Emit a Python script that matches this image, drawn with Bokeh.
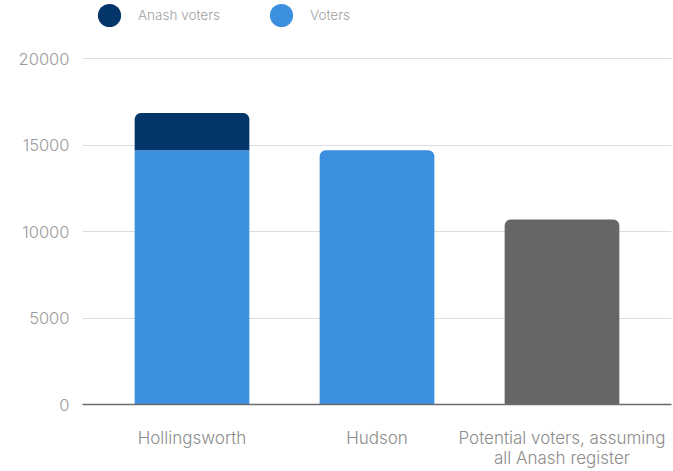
from bokeh.plotting import figure
from bokeh.models import (ColumnDataSource, FactorRange, Range1d, FixedTicker,
                          Legend, LegendItem)
from bokeh.embed import file_html
from bokeh.resources import INLINE

# ---- data ----
categories = ["Hollingsworth", "Hudson", "Potential voters, assuming\nall Anash register"]
voters = [14700, 14700, 0]
anash_voters = [2150, 0, 0]
potential_voters = [0, 0, 10700]
y_ticks = [0, 5000, 10000, 15000, 20000]

# ---- style ----
NAVY = "#03356a"
BLUE = "#3d8fe0"
GREY = "#666666"
FONT = "'Inter Light', Inter"
RADIUS = 6

p = figure(
    x_range=FactorRange(*categories, range_padding=0.0613),
    y_range=Range1d(0, 23363),
    width=673, height=471,
    output_backend="svg", toolbar_location=None, tools="",
    min_border_left=82, min_border_right=2, min_border_top=0, min_border_bottom=66,
)
p.outline_line_color = None
p.background_fill_color = "white"
p.border_fill_color = "white"

# bars
bar_w = 0.62
for i, cat in enumerate(categories):
    base = 0
    stack = [(voters[i], BLUE), (anash_voters[i], NAVY), (potential_voters[i], GREY)]
    stack = [(v, c) for v, c in stack if v]
    for j, (v, c) in enumerate(stack):
        top_most = j == len(stack) - 1
        src = ColumnDataSource(dict(x=[cat], bottom=[base], top=[base + v]))
        p.vbar(x="x", bottom="bottom", top="top", width=bar_w, source=src,
               fill_color=c, line_color=None,
               border_radius=(RADIUS, RADIUS, 0, 0) if top_most else 0)
        base += v

# legend: circle markers from renderers whose single point is not plotted (NaN)
nan = float("nan")
r_anash = p.scatter(x=[categories[0]], y=[nan], marker="circle", size=10,
                    fill_color=NAVY, line_color=None)
r_voters = p.scatter(x=[categories[0]], y=[nan], marker="circle", size=10,
                     fill_color=BLUE, line_color=None)
legend = Legend(
    items=[LegendItem(label="Anash voters", renderers=[r_anash], index=0),
           LegendItem(label="Voters", renderers=[r_voters], index=0)],
    orientation="horizontal", location=(-2, 358),
    glyph_width=58, glyph_height=62, label_standoff=0, spacing=32,
    padding=0, margin=0,
    border_line_alpha=0, background_fill_alpha=0,
    label_text_font=FONT, label_text_font_size="13.5px", label_text_color="#a0a0a0",
)
p.add_layout(legend, "center")

# axes
p.yaxis.ticker = FixedTicker(ticks=y_ticks)
p.yaxis.axis_line_color = None
p.yaxis.major_tick_line_color = None
p.yaxis.minor_tick_line_color = None
p.yaxis.major_tick_out = 0
p.yaxis.major_label_standoff = 13
p.yaxis.major_label_text_font = FONT
p.yaxis.major_label_text_font_size = "16.5px"
p.yaxis.major_label_text_color = "#9a9a9a"

p.xaxis.axis_line_color = "#6b6b6b"
p.xaxis.axis_line_width = 1.5
p.xaxis.major_tick_line_color = None
p.xaxis.minor_tick_line_color = None
p.xaxis.major_tick_out = 0
p.xaxis.major_label_standoff = 23
p.xaxis.major_label_text_font = FONT
p.xaxis.major_label_text_font_size = "17px"
p.xaxis.major_label_text_color = "#8c8c8c"
p.xaxis.major_label_text_line_height = 1.04

p.xgrid.grid_line_color = None
p.ygrid.grid_line_color = "#dedede"
p.ygrid.grid_line_width = 1

open("out.html", "w").write(file_html(p, INLINE))
